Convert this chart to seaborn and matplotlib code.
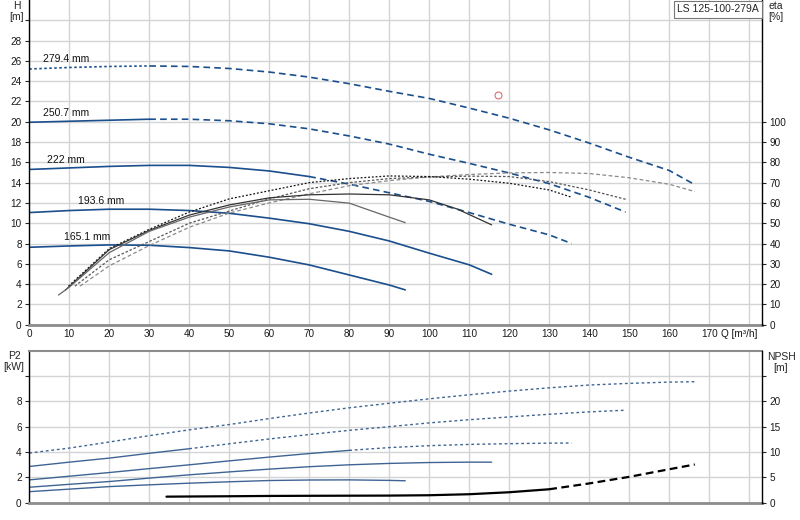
import numpy as np
import matplotlib
matplotlib.use("Agg")
import matplotlib.pyplot as plt
import seaborn as sns

# Q-H curves per impeller diameter (Q in m3/h, H in m)
q_279 = [0, 10, 20, 30, 40, 50, 60, 70, 80, 90, 100, 110, 120, 130, 140, 150, 160, 166.4]
h_279 = [25.2, 25.35, 25.45, 25.5, 25.45, 25.25, 24.9, 24.4, 23.75, 23.0, 22.3, 21.35, 20.35, 19.2, 17.9, 16.5, 15.2, 13.8]
q_250 = [0, 10, 20, 30, 40, 50, 60, 70, 80, 90, 100, 110, 120, 130, 140, 149.1]
h_250 = [19.95, 20.05, 20.15, 20.25, 20.25, 20.1, 19.8, 19.3, 18.6, 17.8, 16.8, 15.9, 14.95, 13.9, 12.55, 11.1]
q_222 = [0, 10, 20, 30, 40, 50, 60, 70, 80, 90, 100, 110, 120, 130, 135.6]
h_222 = [15.3, 15.45, 15.6, 15.7, 15.7, 15.5, 15.15, 14.6, 13.85, 13.0, 12.15, 11.05, 9.9, 8.85, 8.0]
q_193 = [0, 10, 20, 30, 40, 50, 60, 70, 80, 90, 100, 110, 115.6]
h_193 = [11.05, 11.25, 11.38, 11.38, 11.25, 10.98, 10.5, 9.95, 9.2, 8.25, 7.05, 5.9, 4.97]
q_165 = [0, 10, 20, 30, 40, 50, 60, 70, 80, 90, 94]
h_165 = [7.63, 7.76, 7.86, 7.83, 7.6, 7.27, 6.65, 5.89, 4.9, 3.91, 3.43]

diam_labels = ["279.4 mm", "250.7 mm", "222 mm", "193.6 mm", "165.1 mm"]

# efficiency curves (eta in %)
qe_279 = [12.7, 20, 30, 40, 50, 60, 70, 80, 90, 100, 110, 120, 130, 140, 150, 160, 166.4]
eta_279 = [19, 29, 39, 48, 55, 60, 64.5, 68.5, 71, 72.8, 74, 74.8, 75, 74.5, 72.4, 69.2, 65.6]
qe_250 = [11.4, 20, 30, 40, 50, 60, 70, 80, 90, 100, 110, 120, 130, 140, 149.1]
eta_250 = [19, 32, 41, 50, 56, 62, 67, 70, 72, 72.8, 73.2, 73, 70.5, 66.4, 61.8]
qe_222 = [9.8, 20, 30, 40, 50, 60, 70, 80, 90, 100, 110, 120, 130, 135.6]
eta_222 = [19, 37.5, 47, 55.5, 62, 66, 70, 72, 73.3, 73, 71.7, 69.7, 66.4, 62.8]
qe_193 = [9, 20, 30, 40, 50, 60, 70, 80, 90, 100, 107, 115.6]
eta_193 = [17, 37, 46.5, 54, 59, 62.5, 64, 64.4, 64, 61.5, 57, 49.2]
qe_165 = [7.3, 10, 20, 30, 40, 50, 60, 70, 80, 90, 94]
eta_165 = [14.6, 18.5, 35.5, 46, 53, 58, 61.5, 61.8, 59.9, 53, 50.3]

# shaft power P2 (kW)
qp_279 = [0, 10, 20, 30, 40, 50, 60, 70, 80, 90, 100, 110, 120, 130, 140, 150, 160, 166.4]
p2_279 = [3.92, 4.31, 4.79, 5.29, 5.75, 6.17, 6.64, 7.08, 7.49, 7.85, 8.2, 8.52, 8.81, 9.07, 9.29, 9.42, 9.52, 9.55]
qp_250 = [0, 10, 20, 30, 40, 50, 60, 70, 80, 90, 100, 110, 120, 130, 140, 149.1]
p2_250 = [2.86, 3.2, 3.52, 3.9, 4.26, 4.65, 5.03, 5.38, 5.71, 6.0, 6.3, 6.55, 6.77, 6.98, 7.17, 7.3]
qp_222 = [0, 10, 20, 30, 40, 50, 60, 70, 80, 90, 100, 110, 120, 130, 135.6]
p2_222 = [1.8, 2.09, 2.38, 2.69, 2.99, 3.3, 3.6, 3.88, 4.13, 4.35, 4.5, 4.6, 4.66, 4.7, 4.71]
qp_193 = [0, 10, 20, 30, 40, 50, 60, 70, 80, 90, 100, 110, 115.6]
p2_193 = [1.22, 1.45, 1.67, 1.94, 2.2, 2.43, 2.65, 2.84, 2.99, 3.1, 3.17, 3.2, 3.2]
qp_165 = [0, 10, 20, 30, 40, 50, 60, 70, 80, 90, 94]
p2_165 = [0.87, 1.07, 1.27, 1.41, 1.54, 1.65, 1.75, 1.79, 1.8, 1.76, 1.73]

# NPSH (m)
q_npsh = [34.3, 40, 50, 60, 70, 80, 90, 100, 110, 120, 130, 140, 150, 160, 166.4]
npsh = [1.19, 1.22, 1.27, 1.33, 1.36, 1.38, 1.4, 1.47, 1.67, 2.06, 2.65, 3.8, 5.1, 6.6, 7.54]

# duty point
duty_q, duty_h = 117.3, 22.6

sns.set_style("white")
plt.rcParams['font.family'] = ['Liberation Sans', 'DejaVu Sans']

BLUE = '#1b4e8c'
GRID = '#d2d4d6'
DASH = (0, (4, 2.5))
DOT = (0, (1.5, 1.5))


def line(ax, q, y, ls='-', **kw):
    sns.lineplot(x=np.asarray(q), y=np.asarray(y), ax=ax, sort=False,
                 estimator=None, linestyle=ls, **kw)


def split_line(ax, q, y, split, ls1, ls2, **kw):
    q = np.asarray(q)
    y = np.asarray(y)
    a = q <= split
    b = q >= split
    line(ax, q[a], y[a], ls1, **kw)
    line(ax, q[b], y[b], ls2, **kw)


fig = plt.figure(figsize=(8, 5.2), dpi=100)
ax_h = fig.add_axes([0.0366, 0.3756, 0.9159, 0.6244])
ax_eta = ax_h.twinx()
ax_p = fig.add_axes([0.0366, 0.0333, 0.9159, 0.2923])
ax_npsh = ax_p.twinx()

# H curves
split_line(ax_h, q_279, h_279, 30, DOT, DASH, color=BLUE, lw=1.2)
split_line(ax_h, q_250, h_250, 30, '-', DASH, color=BLUE, lw=1.2)
split_line(ax_h, q_222, h_222, 70, '-', DASH, color=BLUE, lw=1.2)
line(ax_h, q_193, h_193, '-', color=BLUE, lw=1.2)
line(ax_h, q_165, h_165, '-', color=BLUE, lw=1.2)

label_pos = [(3.5, 26.2), (3.5, 20.85), (4.5, 16.25), (12.1, 12.2), (8.8, 8.65)]
for txt, (lq, lh) in zip(diam_labels, label_pos):
    ax_h.text(lq, lh, txt, fontsize=7.5, va='center', ha='left', color='#111111')

ax_h.plot([duty_q], [duty_h], marker='o', ms=5, mfc='none', mec='#e26b6b', mew=0.8)

# eta curves
line(ax_eta, qe_279, eta_279, (0, (3, 2)), color='#8a8a8a', lw=0.9)
line(ax_eta, qe_250, eta_250, (0, (2, 1.5)), color='#555555', lw=0.9)
line(ax_eta, qe_222, eta_222, (0, (1.5, 1.5)), color='#111111', lw=0.9)
line(ax_eta, qe_193, eta_193, '-', color='#333333', lw=0.9)
line(ax_eta, qe_165, eta_165, '-', color='#666666', lw=0.9)

# P2 curves
line(ax_p, qp_279, p2_279, (0, (2, 2)), color='#3f6494', lw=1.0)
split_line(ax_p, qp_250, p2_250, 40, '-', (0, (2, 2)), color='#3f6494', lw=1.0)
split_line(ax_p, qp_222, p2_222, 80, '-', (0, (2, 2)), color='#3f6494', lw=1.0)
line(ax_p, qp_193, p2_193, '-', color='#3f6494', lw=1.0)
line(ax_p, qp_165, p2_165, '-', color='#3f6494', lw=1.0)

# NPSH
split_line(ax_npsh, q_npsh, npsh, 130, '-', (0, (3.5, 2)), color='black', lw=1.6)

# axes formatting
TICK_FS = 7.2
for ax in (ax_h, ax_p):
    ax.set_xlim(0, 183.2)
    ax.set_xticks(np.arange(0, 181, 10))
    ax.grid(True, color=GRID, lw=1)
    ax.set_axisbelow(True)
    ax.tick_params(axis='x', length=0, pad=3, labelsize=TICK_FS, labelcolor='#1a1a1a')
    ax.tick_params(axis='y', length=3, width=0.8, pad=2.5, labelsize=TICK_FS,
                   direction='out', left=True, labelcolor='#1a1a1a')
    ax.set_xlabel('')
    ax.set_ylabel('')
    ax.spines['left'].set_color('black')
    ax.spines['left'].set_linewidth(1)
    ax.spines['bottom'].set_color('#8c8c8c')
    ax.spines['bottom'].set_linewidth(2)
    ax.spines['right'].set_visible(False)

ax_h.set_xticklabels([str(v) for v in range(0, 171, 10)] + [''])
ax_p.set_xticklabels([])
ax_h.spines['top'].set_visible(False)
ax_p.spines['top'].set_color('#8c8c8c')
ax_p.spines['top'].set_linewidth(1.5)

ax_h.set_ylim(0, 32)
ax_h.set_yticks(np.arange(0, 31, 2))
ax_h.set_yticklabels([str(v) for v in range(0, 29, 2)] + [''])
ax_p.set_ylim(0, 12)
ax_p.set_yticks(np.arange(0, 11, 2))
ax_p.set_yticklabels([str(v) for v in range(0, 9, 2)] + [''])

ax_eta.set_ylim(0, 160)
ax_eta.set_yticks(np.arange(0, 101, 10))
ax_npsh.set_ylim(0, 30)
ax_npsh.set_yticks(np.arange(0, 26, 5))
ax_npsh.set_yticklabels([str(v) for v in range(0, 21, 5)] + [''])
for ax in (ax_eta, ax_npsh):
    ax.set_xlim(0, 183.2)
    ax.grid(False)
    ax.set_ylabel('')
    ax.tick_params(axis='y', length=3, width=0.8, pad=2.5, labelsize=TICK_FS,
                   direction='out', right=True, labelcolor='#1a1a1a')
    for s in ('left', 'top', 'bottom'):
        ax.spines[s].set_visible(False)
    ax.spines['right'].set_color('black')
    ax.spines['right'].set_linewidth(1)

ax_h.text(177.4, -0.95, 'Q [m³/h]', fontsize=TICK_FS, ha='center', va='center',
          color='#111111')

fig.text(17 / 800, 1 - 1 / 520, 'H\n[m]', ha='center', va='top', fontsize=7.5, linespacing=1.15)
fig.text(776 / 800, 1 - 1 / 520, 'eta\n[%]', ha='center', va='top', fontsize=7.5, linespacing=1.15)
fig.text(14 / 800, 1 - 351 / 520, 'P2\n[kW]', ha='center', va='top', fontsize=7.5, linespacing=1.15)
fig.text(781 / 800, 1 - 352 / 520, 'NPSH\n[m]', ha='center', va='top', fontsize=7.5, linespacing=1.15)

fig.text(718 / 800, 1 - 9.5 / 520, 'LS 125-100-279A', ha='center', va='center', fontsize=7.5,
         bbox=dict(boxstyle='square,pad=0.3', fc='white', ec='#777777', lw=0.8))

fig.savefig('out.png', dpi=100)
